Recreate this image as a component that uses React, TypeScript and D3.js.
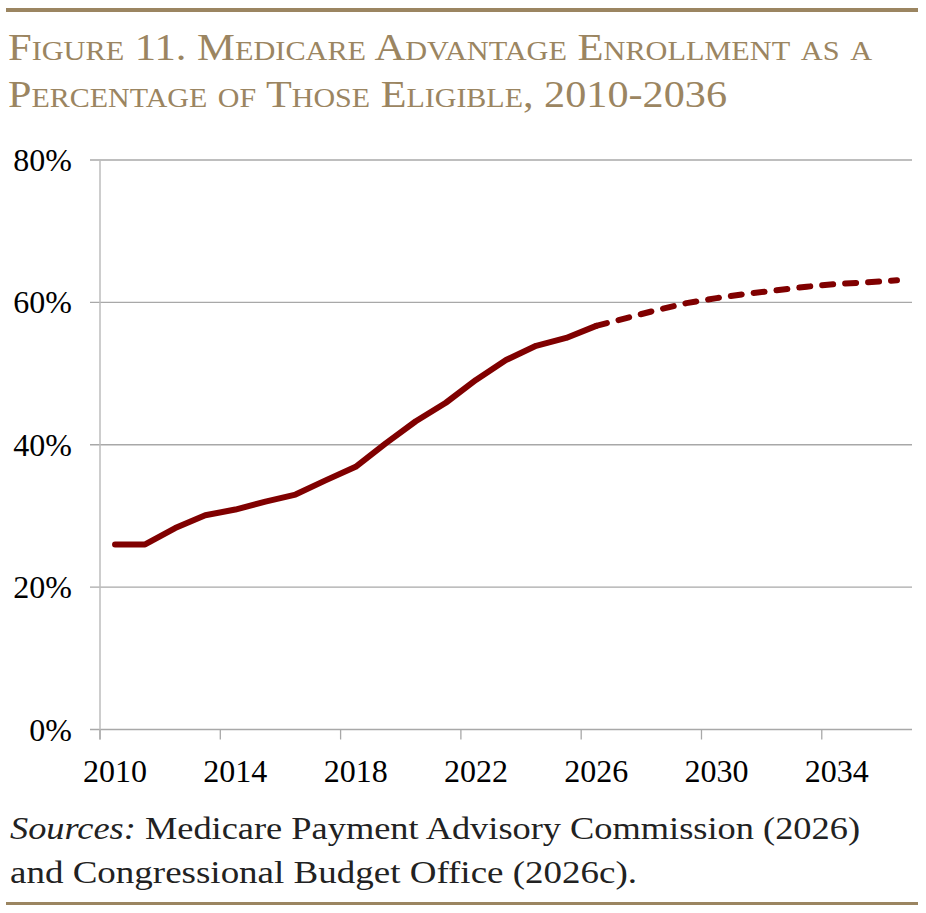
import React from 'react';
import * as d3 from 'd3';

// categories and series
const years = [2010, 2011, 2012, 2013, 2014, 2015, 2016, 2017, 2018, 2019, 2020, 2021, 2022,
  2023, 2024, 2025, 2026, 2027, 2028, 2029, 2030, 2031, 2032, 2033, 2034, 2035, 2036];
const actualYears = [2010, 2011, 2012, 2013, 2014, 2015, 2016, 2017, 2018, 2019, 2020, 2021, 2022,
  2023, 2024, 2025, 2026];
const actualValues = [26, 26, 28.3, 30.1, 30.9, 32.0, 33.0, 35.0, 36.9, 40.2, 43.3, 45.9, 49.1,
  51.9, 53.9, 55.0, 56.7];
const projYears = [2026, 2027, 2028, 2029, 2030, 2031, 2032, 2033, 2034, 2035, 2036];
const projValues = [56.7, 57.8, 58.9, 59.9, 60.6, 61.2, 61.7, 62.2, 62.6, 62.8, 63.1];
const yTicks = [0, 20, 40, 60, 80];
const xTickYears = [2010, 2014, 2018, 2022, 2026, 2030, 2034];

const W = 926;
const H = 913;
const left = 100;
const right = 912;
const top = 160;
const bottom = 729.5;

const gold = '#9b8561';
const lineColor = '#800000';
const serif = '"Liberation Serif", "Times New Roman", serif';

export default function App() {
  const x = d3.scalePoint<number>().domain(years).range([left, right]).padding(0.5);
  const step = x.step();
  const y = d3.scaleLinear().domain([0, 80]).range([bottom, top]);

  const line = d3.line<[number, number]>()
    .x(d => x(d[0]) as number)
    .y(d => y(d[1]));

  const actual = actualYears.map((yr, i) => [yr, actualValues[i]] as [number, number]);
  const proj = projYears.map((yr, i) => [yr, projValues[i]] as [number, number]);

  return (
    <svg width={W} height={H} style={{ position: 'absolute', left: 0, top: 0, background: '#fff' }}>
      <rect x={0} y={0} width={W} height={H} fill="#fff" />
      {/* top rule */}
      <rect x={6} y={8} width={912} height={4} fill={gold} />

      {/* title */}
      <g fill={gold} fontFamily={serif} style={{ fontVariant: 'small-caps' }} fontSize={38}>
        <text x={8} y={60} textLength={864} lengthAdjust="spacingAndGlyphs">
          Figure 11. Medicare Advantage Enrollment as a
        </text>
        <text x={8} y={107} textLength={719} lengthAdjust="spacingAndGlyphs">
          Percentage of Those Eligible, 2010-2036
        </text>
      </g>

      {/* gridlines */}
      {yTicks.map(t => (
        <line key={t} x1={left - 10} x2={right} y1={y(t)} y2={y(t)}
          stroke="#a8a8a8" strokeWidth={1.3} />
      ))}
      {/* y axis */}
      <line x1={left} x2={left} y1={top} y2={bottom + 10} stroke="#bdbdbd" strokeWidth={1.5} />
      {/* x ticks */}
      {xTickYears.map(yr => {
        const xx = (x(yr) as number) - step / 2;
        return <line key={yr} x1={xx} x2={xx} y1={bottom} y2={bottom + 10} stroke="#a8a8a8" strokeWidth={1.3} />;
      })}

      {/* y labels */}
      <g fontFamily={serif} fontSize={32} fill="#000" textAnchor="end">
        {yTicks.map(t => (
          <text key={t} x={72} y={y(t) + 11}>{t}%</text>
        ))}
      </g>
      {/* x labels */}
      <g fontFamily={serif} fontSize={32} fill="#000" textAnchor="middle">
        {xTickYears.map(yr => (
          <text key={yr} x={x(yr) as number} y={782}>{yr}</text>
        ))}
      </g>

      {/* series */}
      <path d={line(actual) || ''} fill="none" stroke={lineColor} strokeWidth={6}
        strokeLinejoin="round" strokeLinecap="round" />
      <path d={line(proj) || ''} fill="none" stroke={lineColor} strokeWidth={6}
        strokeLinejoin="round" strokeLinecap="round" strokeDasharray="11 12" />

      {/* sources */}
      <g fontFamily={serif} fontSize={32} fill="#222">
        <text x={10} y={839} textLength={850} lengthAdjust="spacingAndGlyphs">
          <tspan fontStyle="italic">Sources:</tspan> Medicare Payment Advisory Commission (2026)
        </text>
        <text x={10} y={883} textLength={627} lengthAdjust="spacingAndGlyphs">
          and Congressional Budget Office (2026c).
        </text>
      </g>

      {/* bottom rule */}
      <rect x={6} y={902} width={912} height={3} fill={gold} />
    </svg>
  );
}
